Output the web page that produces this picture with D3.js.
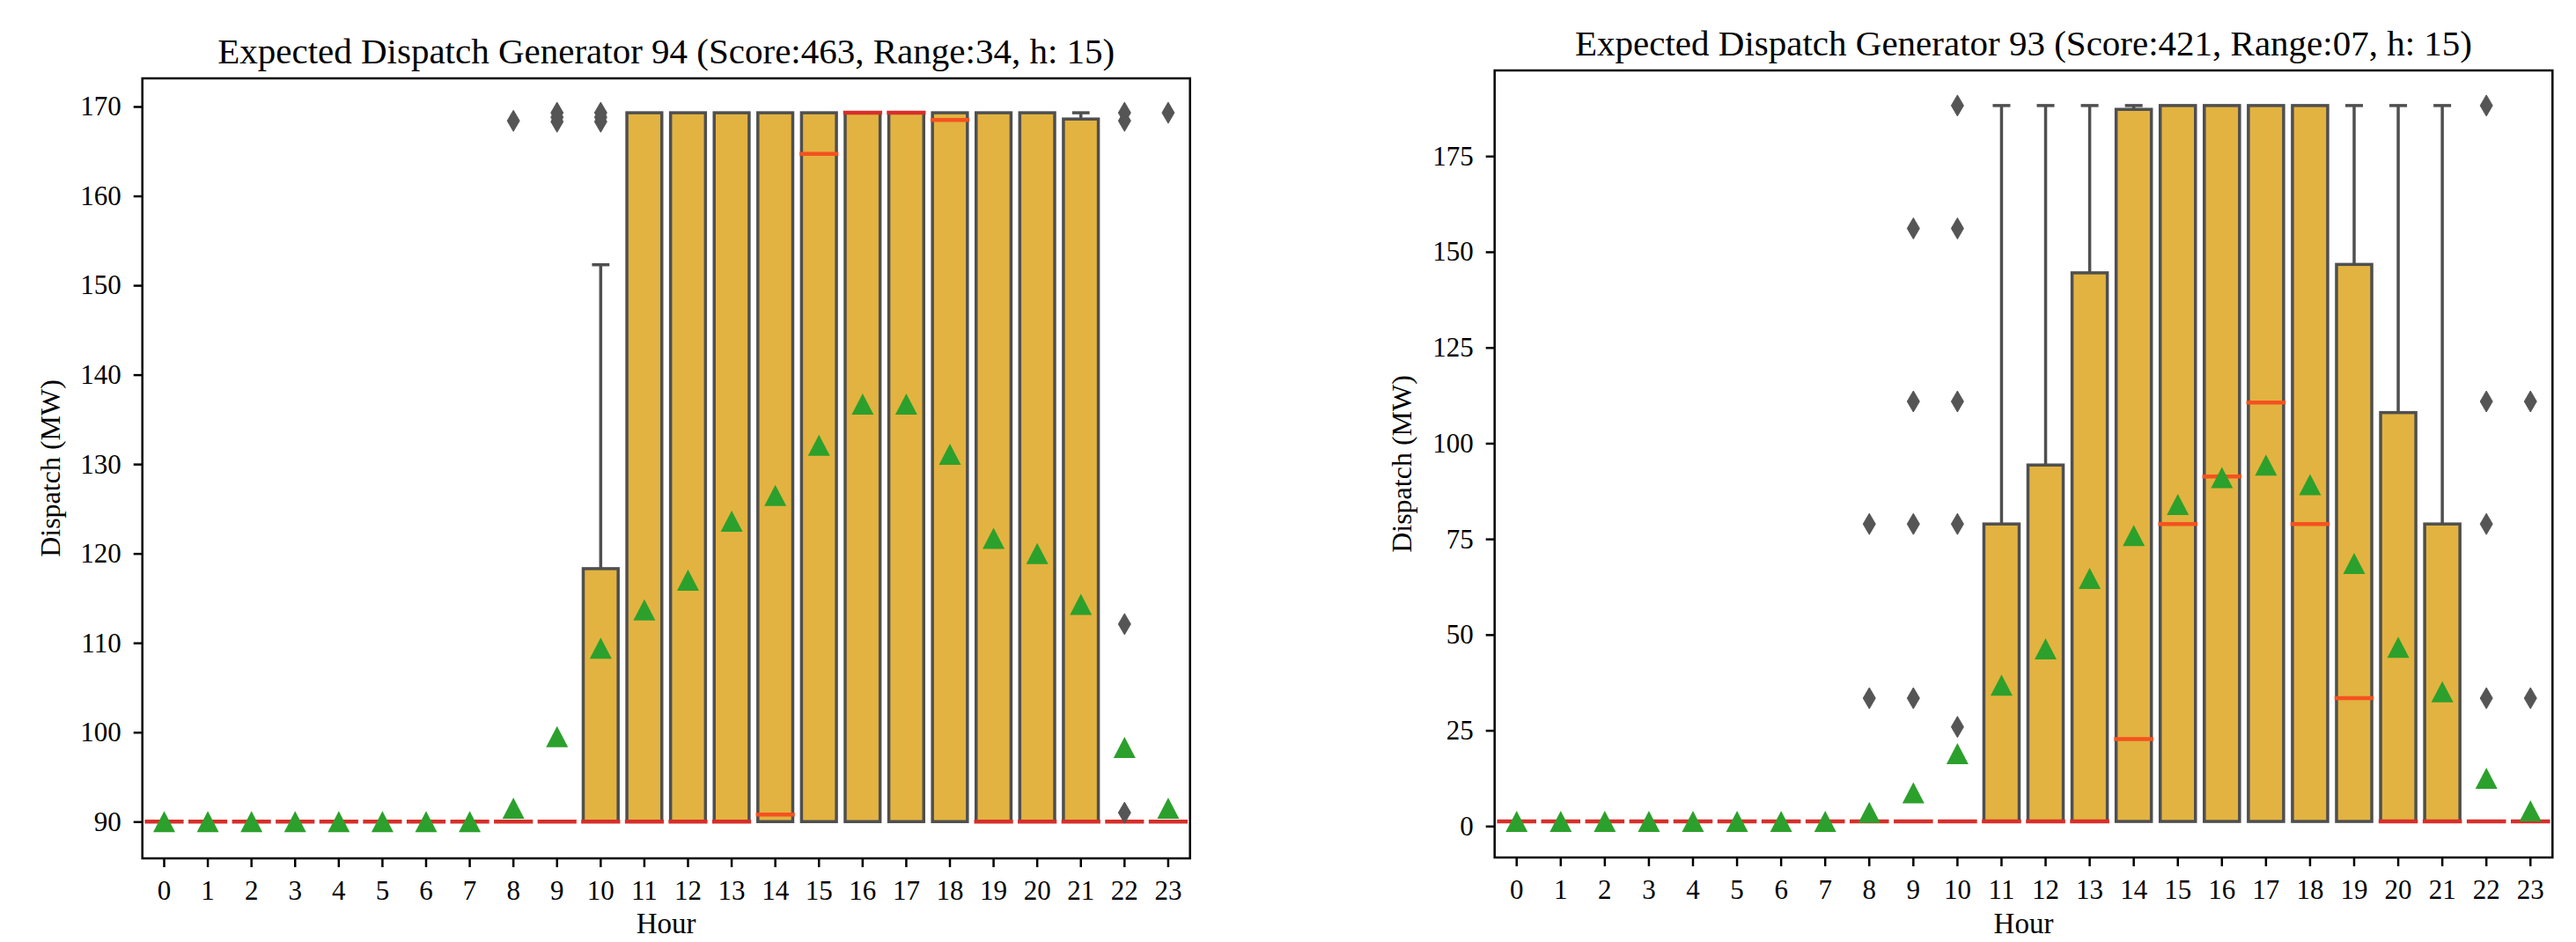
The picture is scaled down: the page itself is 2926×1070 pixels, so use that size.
<!DOCTYPE html>
<html>
<head>
<meta charset="utf-8">
<script src="https://cdn.jsdelivr.net/npm/d3@7"></script>
<style>
  html, body { margin: 0; padding: 0; background: #ffffff; }
  svg { display: block; }
  text { font-family: "Liberation Serif", "DejaVu Serif", serif; fill: #000; }
</style>
</head>
<body>
<svg id="chart" width="2926" height="1070"></svg>
<script>
// ---------------- DATA ----------------
const hours = ["0","1","2","3","4","5","6","7","8","9","10","11","12","13","14","15","16","17","18","19","20","21","22","23"];

// Generator 94
const g94Title = "Expected Dispatch Generator 94 (Score:463, Range:34, h: 15)";
const g94YTicks = [90, 100, 110, 120, 130, 140, 150, 160, 170];
const g94Q1 = [90,90,90,90,90,90,90,90,90,90,90,90,90,90,90,90,90,90,90,90,90,90,90,90];
const g94Q3 = [90,90,90,90,90,90,90,90,90,90,118.3,169.3,169.3,169.3,169.3,169.3,169.3,169.3,169.3,169.3,169.3,168.6,90,90];
const g94WhiskerHigh = [90,90,90,90,90,90,90,90,90,90,152.3,169.3,169.3,169.3,169.3,169.3,169.3,169.3,169.3,169.3,169.3,169.3,90,90];
const g94Median = [90,90,90,90,90,90,90,90,90,90,90,90,90,90,90.8,164.7,169.3,169.3,168.5,90,90,90,90,90];
const g94Mean = [90,90,90,90,90,90,90,90,91.5,99.5,109.4,113.7,117.0,123.6,126.5,132.1,136.7,136.7,131.1,121.7,120.0,114.3,98.3,91.5];
const g94Fliers = [[],[],[],[],[],[],[],[],[168.4],[168.3,168.8,169.3],[168.3,168.8,169.3],[],[],[],[],[],[],[],[],[],[],[],[91.0,112.1,168.4,169.3],[169.3]];

// Generator 93
const g93Title = "Expected Dispatch Generator 93 (Score:421, Range:07, h: 15)";
const g93YTicks = [0, 25, 50, 75, 100, 125, 150, 175];
const g93Q1 = [1.2,1.2,1.2,1.2,1.2,1.2,1.2,1.2,1.2,1.2,1.2,1.2,1.2,1.2,1.2,1.2,1.2,1.2,1.2,1.2,1.2,1.2,1.2,1.2];
const g93Q3 = [1.2,1.2,1.2,1.2,1.2,1.2,1.2,1.2,1.2,1.2,1.2,78.9,94.3,144.5,187.2,188.2,188.2,188.2,188.2,146.7,108.0,78.9,1.2,1.2];
const g93WhiskerHigh = [1.2,1.2,1.2,1.2,1.2,1.2,1.2,1.2,1.2,1.2,1.2,188.2,188.2,188.2,188.2,188.2,188.2,188.2,188.2,188.2,188.2,188.2,1.2,1.2];
const g93Median = [1.2,1.2,1.2,1.2,1.2,1.2,1.2,1.2,1.2,1.2,1.2,1.2,1.2,1.2,22.7,78.9,91.3,110.6,78.9,33.4,1.2,1.2,1.2,1.2];
const g93Mean = [1.2,1.2,1.2,1.2,1.2,1.2,1.2,1.2,3.6,8.7,18.9,36.8,46.3,64.7,75.9,84.0,91.0,94.3,89.2,68.6,46.7,35.1,12.5,4.0];
const g93Fliers = [[],[],[],[],[],[],[],[],[33.4,78.9],[33.4,78.9,110.9,156.1],[25.9,78.9,110.9,156.1,188.2],[],[],[],[],[],[],[],[],[],[],[],[33.4,78.9,110.9,188.2],[33.4,110.9]];

const xLabel = "Hour";
const yLabel = "Dispatch (MW)";

// ---------------- STYLE ----------------
const BOX_FILL = "#e2b340";
const EDGE = "#4f4f4f";
const MED_EDGE = "#d62f2a";
const MED_IN = "#f4521f";
const MEAN_COL = "#2ca02c";
const FLIER_COL = "#555555";

const svg = d3.select("#chart");
svg.append("rect").attr("width", 2926).attr("height", 1070).attr("fill", "#fff");

function drawPanel(cfg) {
  const g = svg.append("g");
  const x = d3.scaleBand().domain(hours).range([cfg.left, cfg.right]).padding(0);
  const y = d3.scaleLinear().domain(cfg.yDomain).range([cfg.bottom, cfg.top]);
  const bw = x.bandwidth() * 0.8;
  const cx = h => x(h) + x.bandwidth() / 2;

  const rows = hours.map((h, i) => ({
    h, q1: cfg.q1[i], q3: cfg.q3[i], wh: cfg.wh[i], med: cfg.med[i], mean: cfg.mean[i], fl: cfg.fl[i]
  }));

  // boxes
  g.selectAll("rect.box").data(rows).join("rect")
    .attr("x", d => cx(d.h) - bw / 2)
    .attr("width", bw)
    .attr("y", d => y(d.q3))
    .attr("height", d => Math.max(0, y(d.q1) - y(d.q3)))
    .attr("fill", BOX_FILL)
    .attr("stroke", EDGE)
    .attr("stroke-width", 3.5);

  // whiskers
  const wrows = rows.filter(d => d.wh > d.q3 + 0.01);
  g.selectAll("line.wh").data(wrows).join("line")
    .attr("x1", d => cx(d.h)).attr("x2", d => cx(d.h))
    .attr("y1", d => y(d.q3)).attr("y2", d => y(d.wh))
    .attr("stroke", EDGE).attr("stroke-width", 3.5);
  g.selectAll("line.cap").data(wrows).join("line")
    .attr("x1", d => cx(d.h) - bw / 4).attr("x2", d => cx(d.h) + bw / 4)
    .attr("y1", d => y(d.wh)).attr("y2", d => y(d.wh))
    .attr("stroke", EDGE).attr("stroke-width", 3.5);

  // medians
  g.selectAll("line.med").data(rows).join("line")
    .attr("x1", d => cx(d.h) - bw / 2).attr("x2", d => cx(d.h) + bw / 2)
    .attr("y1", d => y(d.med)).attr("y2", d => y(d.med))
    .attr("stroke", d => (Math.abs(d.med - d.q1) < 0.05 || Math.abs(d.med - d.q3) < 0.05) ? MED_EDGE : MED_IN)
    .attr("stroke-width", 4.5)
    .attr("stroke-linecap", "square");

  // fliers
  const frows = [];
  rows.forEach(d => d.fl.forEach(v => frows.push({ h: d.h, v })));
  g.selectAll("path.fl").data(frows).join("path")
    .attr("d", "M0,-12L7,0L0,12L-7,0Z")
    .attr("transform", d => `translate(${cx(d.h)},${y(d.v)})`)
    .attr("fill", FLIER_COL).attr("stroke", FLIER_COL).attr("stroke-width", 1);

  // means
  g.selectAll("path.mean").data(rows).join("path")
    .attr("d", "M0,-12L12.5,12L-12.5,12Z")
    .attr("transform", d => `translate(${cx(d.h)},${y(d.mean)})`)
    .attr("fill", MEAN_COL);

  // axes
  const ya = g.append("g").attr("transform", `translate(${cfg.left},0)`)
    .call(d3.axisLeft(y).tickValues(cfg.yTicks).tickSize(10).tickPadding(14).tickFormat(d3.format("d")));
  ya.select(".domain").remove();
  ya.selectAll(".tick line").attr("stroke", "#000").attr("stroke-width", 2.5);
  ya.selectAll(".tick text").attr("font-size", 31).attr("font-family", "Liberation Serif");

  const xa = g.append("g").attr("transform", `translate(0,${cfg.bottom})`)
    .call(d3.axisBottom(x).tickSize(10).tickPadding(15));
  xa.select(".domain").remove();
  xa.selectAll(".tick line").attr("stroke", "#000").attr("stroke-width", 2.5);
  xa.selectAll(".tick text").attr("font-size", 31).attr("font-family", "Liberation Serif");

  // frame
  g.append("rect")
    .attr("x", cfg.left).attr("y", cfg.top)
    .attr("width", cfg.right - cfg.left).attr("height", cfg.bottom - cfg.top)
    .attr("fill", "none").attr("stroke", "#000").attr("stroke-width", 2.5);

  // title
  g.append("text")
    .attr("x", (cfg.left + cfg.right) / 2).attr("y", cfg.titleY)
    .attr("text-anchor", "middle").attr("font-size", 41)
    .text(cfg.title);

  // x label
  g.append("text")
    .attr("x", (cfg.left + cfg.right) / 2).attr("y", 1060)
    .attr("text-anchor", "middle").attr("font-size", 33)
    .text(xLabel);

  // y label
  g.append("text")
    .attr("transform", `translate(${cfg.yLabelX},${(cfg.top + cfg.bottom) / 2}) rotate(-90)`)
    .attr("text-anchor", "middle").attr("font-size", 32)
    .text(yLabel);
}

drawPanel({
  left: 161.7, right: 1351.7, top: 89, bottom: 975,
  yDomain: [85.89, 173.15], yTicks: g94YTicks,
  q1: g94Q1, q3: g94Q3, wh: g94WhiskerHigh, med: g94Median, mean: g94Mean, fl: g94Fliers,
  title: g94Title, titleY: 72, yLabelX: 68
});

drawPanel({
  left: 1697.7, right: 2899.3, top: 80, bottom: 974,
  yDomain: [-8.21, 197.37], yTicks: g93YTicks,
  q1: g93Q1, q3: g93Q3, wh: g93WhiskerHigh, med: g93Median, mean: g93Mean, fl: g93Fliers,
  title: g93Title, titleY: 63, yLabelX: 1603
});
</script>
</body>
</html>
